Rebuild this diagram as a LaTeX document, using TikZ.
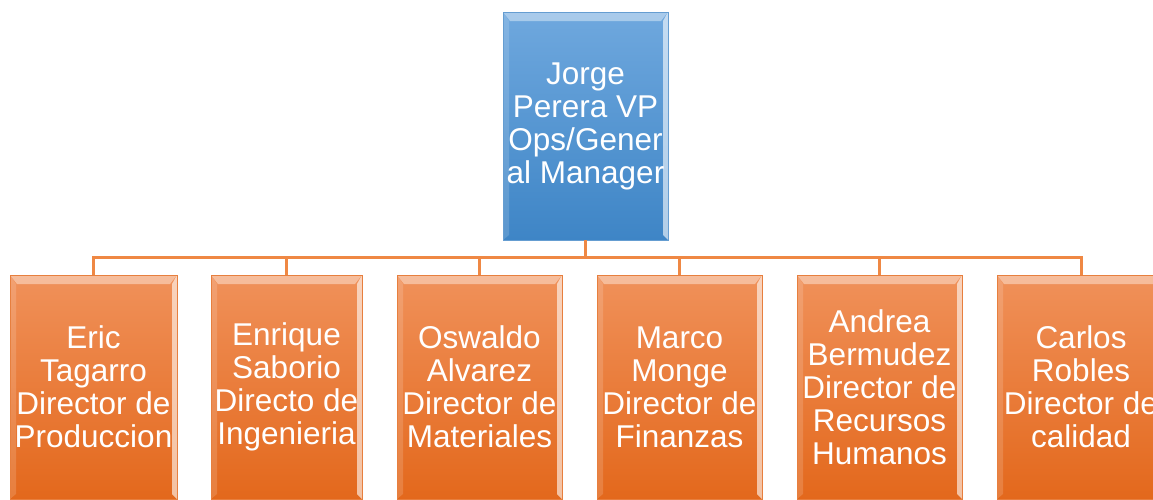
\documentclass[tikz,border=0pt]{standalone}
\usepackage{fontspec}
\setmainfont{Liberation Sans}
\begin{document}
\begin{tikzpicture}[x=1pt,y=-1pt,
  bevel/.style={path picture={
    \fill[white,opacity=0.4] (path picture bounding box.north west) -- (path picture bounding box.north east)
      -- ([xshift=-7pt,yshift=-9pt]path picture bounding box.north east) -- ([xshift=7pt,yshift=-9pt]path picture bounding box.north west) -- cycle;
    \fill[white,opacity=0.6] (path picture bounding box.north east) -- (path picture bounding box.south east)
      -- ([xshift=-5pt,yshift=5pt]path picture bounding box.south east) -- ([xshift=-5pt,yshift=-9pt]path picture bounding box.north east) -- cycle;
    \fill[white,opacity=0.15] (path picture bounding box.north west) -- (path picture bounding box.south west)
      -- ([xshift=6pt,yshift=5pt]path picture bounding box.south west) -- ([xshift=6pt,yshift=-9pt]path picture bounding box.north west) -- cycle;
  }},
  boxtext/.style={text=white, font=\fontsize{31.5}{33}\selectfont, align=center, inner sep=0pt},
  topbox/.style={bevel, boxtext, top color=topA, bottom color=topB, draw=topB!80!white, line width=0.6pt,
    minimum width=165pt, minimum height=228pt},
  subbox/.style={bevel, boxtext, top color=subA, bottom color=subB, draw=subB!85!white, line width=0.6pt,
    minimum height=224pt},
  conn/.style={draw=connC, line width=3pt}
]
\definecolor{topA}{HTML}{6FA8DE}
\definecolor{topB}{HTML}{3E85C6}
\definecolor{subA}{HTML}{F0915A}
\definecolor{subB}{HTML}{E3681C}
\definecolor{connC}{HTML}{EF8844}
\useasboundingbox (0,0) rectangle (1153,499);

\node[topbox] (top) at (585.5,126) {Jorge\\Perera VP\\Ops/Gener\\al Manager};

\node[subbox, minimum width=167pt] (b1) at (93.5,387) {Eric\\Tagarro\\Director de\\Produccion};
\node[subbox, minimum width=151pt] (b2) at (286.5,387) {Enrique\\Saborio\\Directo de\\Ingenieria};
\node[subbox, minimum width=165pt] (b3) at (479.5,387) {Oswaldo\\Alvarez\\Director de\\Materiales};
\node[subbox, minimum width=165pt] (b4) at (679.5,387) {Marco\\Monge\\Director de\\Finanzas};
\node[subbox, minimum width=165pt] (b5) at (879.5,387) {Andrea\\Bermudez\\Director de\\Recursos\\Humanos};
\node[subbox, minimum width=168pt] (b6) at (1081,387) {Carlos\\Robles\\Director de\\calidad};

\coordinate (j) at ([yshift=-17pt]top.south);
\foreach \b in {b1,b2,b3,b4,b5,b6}{
  \draw[conn] (top.south) -- (j) -| (\b.north);
}
\end{tikzpicture}
\end{document}
